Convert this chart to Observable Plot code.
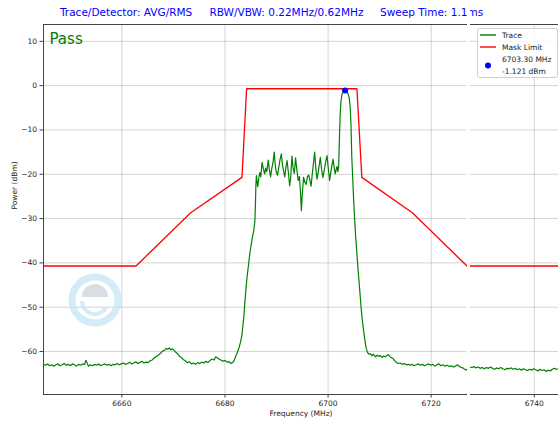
<!DOCTYPE html>
<html>
<head>
<meta charset="utf-8">
<script src="https://cdn.jsdelivr.net/npm/d3@7"></script>
<script src="https://cdn.jsdelivr.net/npm/@observablehq/plot@0.6"></script>
<style>
  html, body { margin: 0; padding: 0; background: white; }
  #wrap { position: relative; width: 558px; height: 423px; overflow: hidden; font-family: "DejaVu Sans", sans-serif; }
  #wrap > svg { position: absolute; left: 0; top: 0; }
</style>
</head>
<body>
<div id="wrap"></div>
<script>
// ---- data ----
const xDomain = [6644.8, 6744.7];
const yDomain = [-69.7, 13.8];
const xTicks = [6660, 6680, 6700, 6720, 6740];
const yTicks = [-60, -50, -40, -30, -20, -10, 0, 10];

const titleParts = ["Trace/Detector: AVG/RMS", "RBW/VBW: 0.22MHz/0.62MHz", "Sweep Time: 1.1ms"];
const verdict = "Pass";
const legendLabels = ["Trace", "Mask Limit", "6703.30 MHz", "-1.121 dBm"];

const peak = [{f: 6703.30, p: -1.121}];

const mask = [
  [6644.8, -40.7], [6662.75, -40.7], [6673.35, -28.7], [6683.3, -20.7], [6684.2, -0.7],
  [6705.6, -0.7], [6706.55, -20.7], [6716.35, -28.7], [6726.95, -40.7], [6744.7, -40.7]
];

const trace = [
  [6644.8,-62.9],[6645.2,-63.1],[6645.6,-62.8],[6646.0,-63.2],[6646.4,-63.0],[6646.8,-63.3],[6647.2,-63.0],
  [6647.6,-62.8],[6648.0,-63.2],[6648.4,-63.0],[6648.8,-62.7],[6649.2,-63.1],[6649.6,-62.9],[6650.0,-63.2],
  [6650.4,-62.8],[6650.8,-63.0],[6651.2,-63.3],[6651.6,-62.9],[6652.0,-63.1],[6652.4,-62.8],[6652.8,-62.9],
  [6653.0,-62.0],[6653.2,-62.4],[6653.5,-63.3],[6653.9,-63.0],[6654.3,-63.2],[6654.7,-62.9],[6655.1,-63.1],
  [6655.5,-62.8],[6655.9,-63.2],[6656.3,-63.0],[6656.7,-62.8],[6657.1,-63.1],[6657.5,-62.9],[6657.9,-63.2],
  [6658.3,-62.9],[6658.7,-63.0],[6659.1,-62.7],[6659.5,-63.0],[6659.9,-62.8],[6660.3,-62.6],[6660.7,-62.9],
  [6661.1,-62.7],[6661.5,-62.4],[6661.9,-62.8],[6662.3,-62.6],[6662.7,-62.3],[6663.1,-62.7],[6663.5,-62.5],
  [6663.9,-62.2],[6664.3,-62.6],[6664.7,-62.4],[6665.1,-62.5],[6665.5,-62.1],[6665.9,-61.9],[6666.3,-61.4],
  [6666.7,-61.1],[6667.1,-60.8],[6667.5,-60.4],[6667.9,-59.9],[6668.3,-59.7],[6668.6,-59.3],[6668.9,-59.5],
  [6669.2,-59.2],[6669.5,-59.6],[6669.8,-59.4],[6670.1,-59.7],[6670.4,-60.1],[6670.7,-60.4],[6671.0,-60.8],
  [6671.3,-61.2],[6671.6,-61.4],[6671.9,-61.8],[6672.3,-62.1],[6672.7,-62.5],[6673.1,-62.3],[6673.5,-62.8],
  [6673.9,-62.6],[6674.3,-62.9],[6674.7,-62.5],[6675.1,-62.7],[6675.5,-62.4],[6675.9,-62.6],[6676.3,-62.2],
  [6676.7,-62.5],[6677.1,-62.0],[6677.5,-61.7],[6677.9,-61.9],[6678.2,-61.2],[6678.5,-61.4],[6678.8,-61.7],
  [6679.2,-61.9],[6679.6,-62.2],[6680.0,-62.0],[6680.4,-62.4],[6680.8,-62.3],[6681.2,-62.7],[6681.5,-62.5],
  [6681.8,-62.0],[6682.1,-61.0],[6682.4,-60.2],[6682.7,-59.2],[6683.0,-58.0],[6683.25,-56.6],[6683.45,-54.5],
  [6683.65,-52.3],[6683.85,-49.0],[6684.05,-46.2],[6684.3,-43.0],[6684.6,-40.2],[6684.85,-37.6],[6685.1,-35.9],
  [6685.35,-34.0],[6685.6,-32.6],[6685.8,-30.6],[6685.92,-26.5],[6686.0,-22.5],[6686.1,-20.3],
  [6686.35,-22.8],[6686.55,-21.0],[6686.75,-19.6],[6686.95,-20.6],[6687.2,-17.3],[6687.45,-18.8],[6687.7,-19.9],
  [6687.9,-18.6],[6688.1,-19.4],[6688.4,-16.8],[6688.6,-18.9],[6688.85,-20.6],[6689.05,-18.9],[6689.3,-17.5],
  [6689.55,-15.0],[6689.75,-17.8],[6689.95,-19.5],[6690.2,-20.2],[6690.45,-18.4],[6690.7,-16.6],[6690.95,-15.4],
  [6691.15,-17.9],[6691.4,-19.4],[6691.6,-20.6],[6691.85,-18.2],[6692.05,-16.9],[6692.3,-19.6],[6692.55,-22.6],
  [6692.75,-20.8],[6693.0,-15.9],[6693.2,-18.5],[6693.45,-19.8],[6693.7,-16.3],[6693.95,-19.0],[6694.2,-21.4],
  [6694.45,-20.5],[6694.65,-24.0],[6694.83,-28.2],[6695.0,-24.5],[6695.25,-20.7],[6695.5,-21.8],[6695.75,-22.3],
  [6696.0,-20.5],[6696.25,-20.2],[6696.5,-21.5],[6696.7,-22.7],[6696.95,-19.8],[6697.2,-17.2],[6697.4,-15.0],
  [6697.6,-18.3],[6697.85,-21.1],[6698.1,-19.5],[6698.3,-17.8],[6698.5,-16.2],[6698.75,-18.9],[6699.0,-20.7],
  [6699.25,-19.2],[6699.5,-17.4],[6699.8,-15.8],[6700.05,-18.7],[6700.3,-21.4],[6700.5,-19.8],[6700.75,-18.0],
  [6700.97,-16.6],[6701.2,-18.6],[6701.4,-19.9],[6701.6,-18.8],[6701.75,-18.2],[6701.9,-19.4],[6702.05,-18.4],
  [6702.2,-12.0],[6702.35,-6.5],[6702.5,-3.5],[6702.7,-2.0],[6702.9,-1.5],[6703.1,-1.25],[6703.3,-1.121],
  [6703.5,-1.2],[6703.7,-1.5],[6703.9,-1.9],[6704.1,-2.8],[6704.3,-5.0],[6704.45,-9.0],[6704.6,-16.0],
  [6704.75,-20.0],[6704.95,-25.5],[6705.15,-30.0],[6705.35,-34.0],[6705.6,-38.0],[6705.85,-42.0],[6706.1,-45.5],
  [6706.4,-50.0],[6706.65,-53.0],[6706.9,-55.3],[6707.15,-57.5],[6707.4,-59.3],[6707.65,-60.2],[6707.9,-60.6],
  [6708.2,-60.5],[6708.5,-60.9],[6708.8,-60.6],[6709.2,-61.2],[6709.5,-60.8],[6709.8,-61.1],[6710.1,-60.9],
  [6710.5,-61.3],[6710.8,-61.0],[6711.1,-61.2],[6711.4,-60.9],[6711.7,-60.7],[6712.0,-61.1],[6712.3,-61.4],
  [6712.7,-61.7],[6713.0,-62.2],[6713.3,-62.5],[6713.7,-62.7],[6714.0,-62.6],[6714.4,-62.9],[6714.8,-62.7],
  [6715.2,-63.0],[6715.6,-62.9],[6716.0,-63.1],[6716.3,-62.9],[6716.7,-63.2],[6717.1,-63.0],[6717.5,-62.8],
  [6717.9,-63.1],[6718.3,-62.9],[6718.7,-63.2],[6719.1,-63.0],[6719.5,-62.8],[6719.9,-63.1],[6720.3,-62.9],
  [6720.7,-63.3],[6721.1,-63.0],[6721.5,-62.8],[6721.9,-63.2],[6722.3,-63.0],[6722.7,-63.3],[6723.1,-63.1],
  [6723.5,-63.4],[6723.9,-63.2],[6724.3,-63.5],[6724.7,-63.3],[6725.1,-63.0],[6725.5,-63.4],[6725.9,-63.6],
  [6726.3,-63.8],[6726.7,-64.2],[6727.1,-63.9],[6727.5,-63.5],[6727.9,-63.6],[6728.3,-63.4],[6728.7,-63.7],
  [6729.1,-63.5],[6729.5,-63.8],[6729.9,-63.6],[6730.3,-63.9],[6730.7,-63.6],[6731.1,-63.8],[6731.5,-63.5],
  [6731.9,-63.8],[6732.3,-64.0],[6732.7,-63.7],[6733.1,-63.9],[6733.5,-63.6],[6733.9,-63.9],[6734.3,-64.1],
  [6734.7,-63.8],[6735.1,-63.9],[6735.5,-63.7],[6735.9,-64.0],[6736.3,-63.8],[6736.7,-64.1],[6737.1,-63.9],
  [6737.5,-64.2],[6737.9,-63.9],[6738.3,-64.1],[6738.7,-64.3],[6739.1,-64.0],[6739.5,-64.2],[6739.9,-63.9],
  [6740.3,-64.1],[6740.7,-64.4],[6741.1,-64.0],[6741.5,-64.3],[6741.9,-64.1],[6742.3,-64.5],[6742.7,-64.2],
  [6743.1,-64.4],[6743.5,-64.0],[6743.9,-63.8],[6744.3,-64.0],[6744.7,-63.9]
];

// ---- chart ----
const traceRows = trace.map(([f, p]) => ({f, p}));
const maskRows = mask.map(([f, p]) => ({f, p}));
const spine = "#444";
const ink = "#222";

const chart = Plot.plot({
  width: 558,
  height: 423,
  marginTop: 24,
  marginBottom: 29,
  marginLeft: 43,
  marginRight: 0,
  style: {fontFamily: "DejaVu Sans", fontSize: "7.5px", color: ink, background: "white"},
  x: {domain: xDomain},
  y: {domain: yDomain},
  marks: [
    Plot.gridX(xTicks, {stroke: "#b0b0b0", strokeOpacity: 0.55, strokeWidth: 1}),
    Plot.gridY(yTicks, {stroke: "#b0b0b0", strokeOpacity: 0.55, strokeWidth: 1}),
    Plot.axisX(xTicks, {tickSize: 3.5, tickPadding: 2.5, tickFormat: "d", label: null, stroke: spine, fill: ink}),
    Plot.axisY(yTicks, {tickSize: 3.5, tickPadding: 3, tickFormat: "d", label: null, stroke: spine, fill: ink}),
    Plot.ruleX([xDomain[0]], {stroke: spine, strokeWidth: 1}),
    Plot.ruleY(yDomain, {stroke: spine, strokeWidth: 1}),
    Plot.line(traceRows, {x: "f", y: "p", stroke: "green", strokeWidth: 1.2}),
    Plot.line(maskRows, {x: "f", y: "p", stroke: "red", strokeWidth: 1.3}),
    Plot.dot(peak, {x: "f", y: "p", fill: "blue", r: 3}),
    Plot.text([verdict], {text: d => d, frameAnchor: "top-left", dx: 6, dy: 9, lineAnchor: "top", textAnchor: "start", fill: "green", fontSize: 15}),
    Plot.text(["Power (dBm)"], {text: d => d, frameAnchor: "left", dx: -29, rotate: -90, fill: ink, fontSize: 7.5}),
    Plot.text(["Frequency (MHz)"], {text: d => d, frameAnchor: "bottom", dy: 21, fill: ink, fontSize: 7.5})
  ]
});

const wrap = document.getElementById("wrap");
wrap.appendChild(chart);

// ---- overlay: title, legend, watermark ----
const ns = "http://www.w3.org/2000/svg";
const ov = d3.select(wrap).append("svg")
  .attr("xmlns", ns)
  .attr("width", 558).attr("height", 423)
  .style("pointer-events", "none")
  .style("font-family", "DejaVu Sans");

// watermark logo (faint)
const wm = ov.append("g").attr("opacity", 0.75);
wm.append("circle").attr("cx", 95).attr("cy", 300).attr("r", 23)
  .attr("fill", "none").attr("stroke", "#c6e6f5").attr("stroke-width", 7);
wm.append("path").attr("d", "M82 297 A13 13 0 0 1 108 297 Z").attr("fill", "#cdd3db");
wm.append("path").attr("d", "M82 301 A13 13 0 0 0 106 308").attr("fill", "none")
  .attr("stroke", "#c6e6f5").attr("stroke-width", 4);

// title
const titleX = [60, 209.5, 380];
titleParts.forEach((t, i) => {
  ov.append("text").attr("x", titleX[i]).attr("y", 16)
    .attr("fill", "blue").attr("font-size", 10.5).text(t);
});

// legend
const lg = ov.append("g");
lg.append("rect").attr("x", 477.5).attr("y", 28.5).attr("width", 80).attr("height", 49)
  .attr("rx", 2).attr("fill", "white").attr("fill-opacity", 0.85).attr("stroke", "#d0d0d0");
lg.append("line").attr("x1", 480).attr("x2", 496).attr("y1", 35).attr("y2", 35)
  .attr("stroke", "green").attr("stroke-width", 1.4);
lg.append("line").attr("x1", 480).attr("x2", 496).attr("y1", 47).attr("y2", 47)
  .attr("stroke", "red").attr("stroke-width", 1.4);
lg.append("circle").attr("cx", 488).attr("cy", 65.5).attr("r", 3).attr("fill", "blue");
const legY = [35, 47, 59.5, 71];
legendLabels.forEach((t, i) => {
  lg.append("text").attr("x", 502).attr("y", legY[i]).attr("dy", "0.35em")
    .attr("font-size", 7.5).attr("fill", ink).text(t);
});

// white vertical stripe present in the reference image
ov.append("rect").attr("x", 467).attr("y", 0).attr("width", 3).attr("height", 423).attr("fill", "white");
</script>
</body>
</html>
